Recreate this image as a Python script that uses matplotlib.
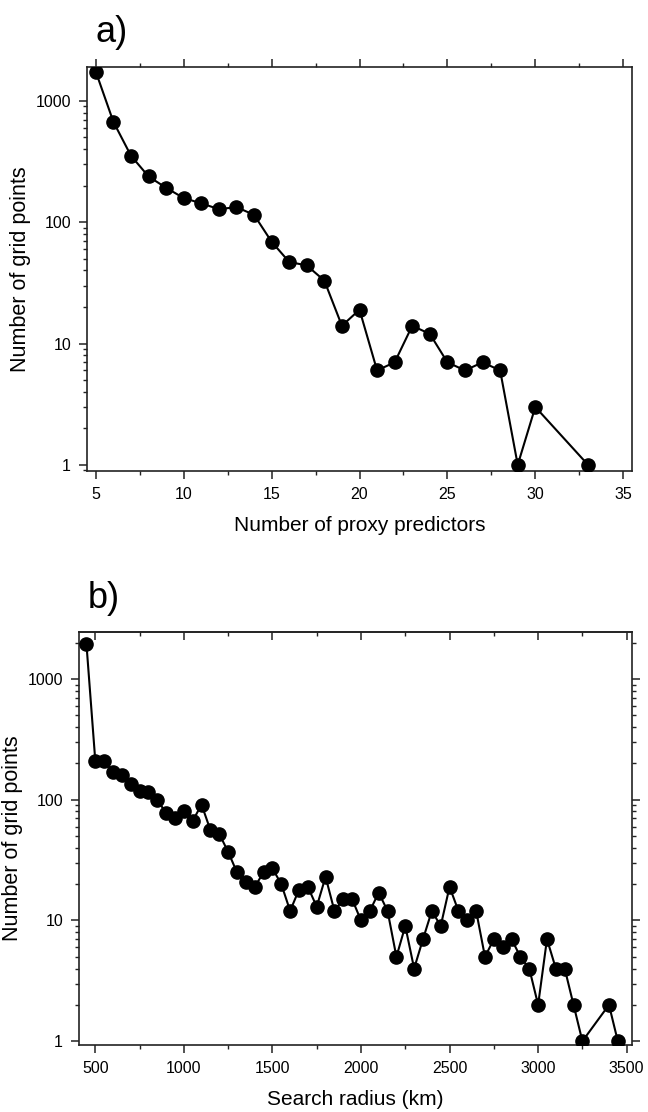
import matplotlib
matplotlib.use("Agg")
import matplotlib.pyplot as plt
from matplotlib.ticker import LogLocator, FixedLocator, FuncFormatter, MultipleLocator, NullFormatter

plt.rcParams['font.family'] = ['Liberation Sans', 'DejaVu Sans']

# Panel a data
predictors = [5, 6, 7, 8, 9, 10, 11, 12, 13, 14, 15, 16, 17, 18, 19, 20, 21, 22, 23, 24, 25, 26, 27, 28, 29, 30, 33]
counts_a = [1740, 672, 353, 238, 192, 158, 143, 128, 133, 115, 69, 47, 44, 33, 14, 19, 6, 7, 14, 12, 7, 6, 7, 6, 1, 3, 1]

# Panel b data
radius = [450, 500, 550, 600, 650, 700, 750, 800, 850, 900, 950, 1000, 1050, 1100, 1150, 1200,
          1250, 1300, 1350, 1400, 1450, 1500, 1550, 1600, 1650, 1700, 1750, 1800, 1850, 1900,
          1950, 2000, 2050, 2100, 2150, 2200, 2250, 2300, 2350, 2400, 2450, 2500, 2550, 2600,
          2650, 2700, 2750, 2800, 2850, 2900, 2950, 3000, 3050, 3100, 3150, 3200, 3250, 3400, 3450]
counts_b = [1950, 210, 210, 170, 160, 135, 118, 115, 99, 78, 70, 81, 67, 91, 56, 52,
            37, 25, 21, 19, 25, 27, 20, 12, 18, 19, 13, 23, 12, 15,
            15, 10, 12, 17, 12, 5, 9, 4, 7, 12, 9, 19, 12, 10,
            12, 5, 7, 6, 7, 5, 4, 2, 7, 4, 4, 2, 1, 2, 1]

xticks_a = [5, 10, 15, 20, 25, 30, 35]
xticks_b = [500, 1000, 1500, 2000, 2500, 3000, 3500]
yticks = [1, 10, 100, 1000]

W, H = 648, 1112
fig = plt.figure(figsize=(W / 100, H / 100), dpi=100)

def box(l, t, r, b):
    return [l / W, 1 - b / H, (r - l) / W, (b - t) / H]

ax_a = fig.add_axes(box(87, 67, 632, 471))
ax_b = fig.add_axes(box(79, 632, 632, 1045))

fmt = FuncFormatter(lambda v, p: f"{int(round(v))}")
INK = '#222222'

def style(ax, x, y, xlim, ylim, xticks, xminor, xlabel, right_on):
    ax.plot(x, y, color='black', lw=1.5, marker='o', ms=9.5, mfc='black', mec='black', zorder=3)
    ax.set_yscale('log')
    ax.set_xlim(*xlim)
    ax.set_ylim(*ylim)
    ax.xaxis.set_major_locator(FixedLocator(xticks))
    ax.xaxis.set_minor_locator(MultipleLocator(xminor))
    ax.yaxis.set_major_locator(FixedLocator(yticks))
    ax.yaxis.set_major_formatter(fmt)
    ax.yaxis.set_minor_locator(LogLocator(base=10, subs=range(2, 10), numticks=20))
    ax.yaxis.set_minor_formatter(NullFormatter())
    for s in ax.spines.values():
        s.set_linewidth(1.2)
        s.set_color(INK)
    ax.tick_params(axis='both', which='major', direction='out', length=5.5, width=1.1,
                   labelsize=11.5, color=INK, pad=6)
    ax.tick_params(axis='both', which='minor', direction='out', length=3, width=1.0, color=INK)
    ax.tick_params(axis='x', which='both', top=True, labeltop=False)
    ax.tick_params(axis='y', which='both', right=right_on, labelright=False)
    ax.set_xlabel(xlabel, fontsize=15, labelpad=10)
    ax.set_ylabel('Number of grid points', fontsize=15.5, labelpad=3)

style(ax_a, predictors, counts_a, (4.5, 35.5), (0.89, 1900), xticks_a, 2.5,
      'Number of proxy predictors', False)
style(ax_b, radius, counts_b, (408, 3530), (0.93, 2450), xticks_b, 250,
      'Search radius (km)', True)

# Panel b: top ticks point inward
secx = ax_b.secondary_xaxis('top')
ax_b.tick_params(axis='x', which='both', top=False)
secx.xaxis.set_major_locator(FixedLocator(xticks_b))
secx.xaxis.set_minor_locator(MultipleLocator(250))
secx.tick_params(axis='x', which='major', direction='in', length=5.5, width=1.1, labeltop=False, color=INK)
secx.tick_params(axis='x', which='minor', direction='in', length=3, width=1.0, color=INK)
secx.spines['top'].set_linewidth(1.2)
secx.spines['top'].set_color(INK)

fig.text(95 / W, 1 - 33 / H, 'a)', fontsize=26, ha='left', va='center')
fig.text(88 / W, 1 - 598 / H, 'b)', fontsize=26, ha='left', va='center')

fig.savefig('out.png', dpi=100)
